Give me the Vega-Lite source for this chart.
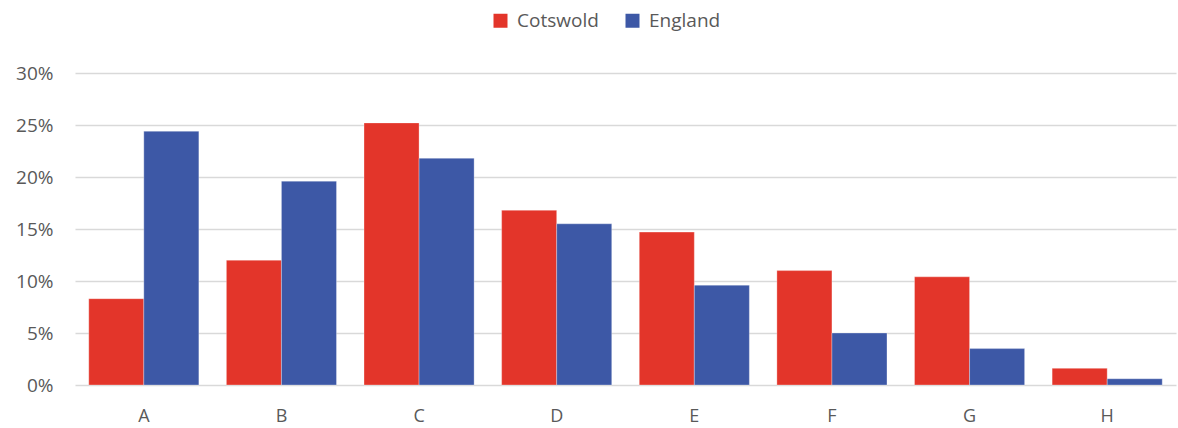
{
  "$schema": "https://vega.github.io/schema/vega-lite/v6.json",
  "width": 1101,
  "height": 312,
  "autosize": {"type": "none"},
  "padding": {"left": 75, "top": 73, "right": 2, "bottom": 43},
  "background": "white",
  "data": {
    "values": [
      {"cat": "A", "area": "Cotswold", "value": 0.083},
      {"cat": "A", "area": "England", "value": 0.244},
      {"cat": "B", "area": "Cotswold", "value": 0.12},
      {"cat": "B", "area": "England", "value": 0.196},
      {"cat": "C", "area": "Cotswold", "value": 0.252},
      {"cat": "C", "area": "England", "value": 0.218},
      {"cat": "D", "area": "Cotswold", "value": 0.168},
      {"cat": "D", "area": "England", "value": 0.155},
      {"cat": "E", "area": "Cotswold", "value": 0.147},
      {"cat": "E", "area": "England", "value": 0.096},
      {"cat": "F", "area": "Cotswold", "value": 0.11},
      {"cat": "F", "area": "England", "value": 0.05},
      {"cat": "G", "area": "Cotswold", "value": 0.104},
      {"cat": "G", "area": "England", "value": 0.035},
      {"cat": "H", "area": "Cotswold", "value": 0.016},
      {"cat": "H", "area": "England", "value": 0.006}
    ]
  },
  "mark": {"type": "bar", "stroke": "white", "strokeWidth": 0.5, "strokeOpacity": 0.6},
  "encoding": {
    "x": {
      "field": "cat", "type": "nominal", "title": null,
      "scale": {"paddingInner": 0.2, "paddingOuter": 0.1},
      "axis": {"labelAngle": 0, "ticks": false, "domain": false, "labelPadding": 22, "labelFontSize": 18, "labelColor": "#595959", "labelFont": "Open Sans"}
    },
    "xOffset": {"field": "area", "type": "nominal", "scale": {"paddingInner": 0, "paddingOuter": 0}},
    "y": {
      "field": "value", "type": "quantitative", "title": null,
      "scale": {"domain": [0, 0.3], "nice": false},
      "axis": {"values": [0, 0.05, 0.1, 0.15, 0.2, 0.25, 0.3], "format": ".0%", "ticks": false, "domain": false, "labelPadding": 22, "labelFontSize": 19, "labelColor": "#595959", "labelFont": "Open Sans", "gridColor": "#D9D9D9", "gridWidth": 1.5}
    },
    "color": {
      "field": "area", "type": "nominal", "title": null,
      "scale": {"domain": ["Cotswold", "England"], "range": ["#E3352A", "#3D58A6"]},
      "legend": {"orient": "none", "legendX": 416, "legendY": -62, "direction": "horizontal", "symbolType": "square", "symbolSize": 196, "symbolStrokeWidth": 0, "labelFontSize": 19, "labelColor": "#595959", "labelFont": "Open Sans", "columnPadding": 24, "labelOffset": 7}
    }
  },
  "config": {"view": {"stroke": null}}
}
